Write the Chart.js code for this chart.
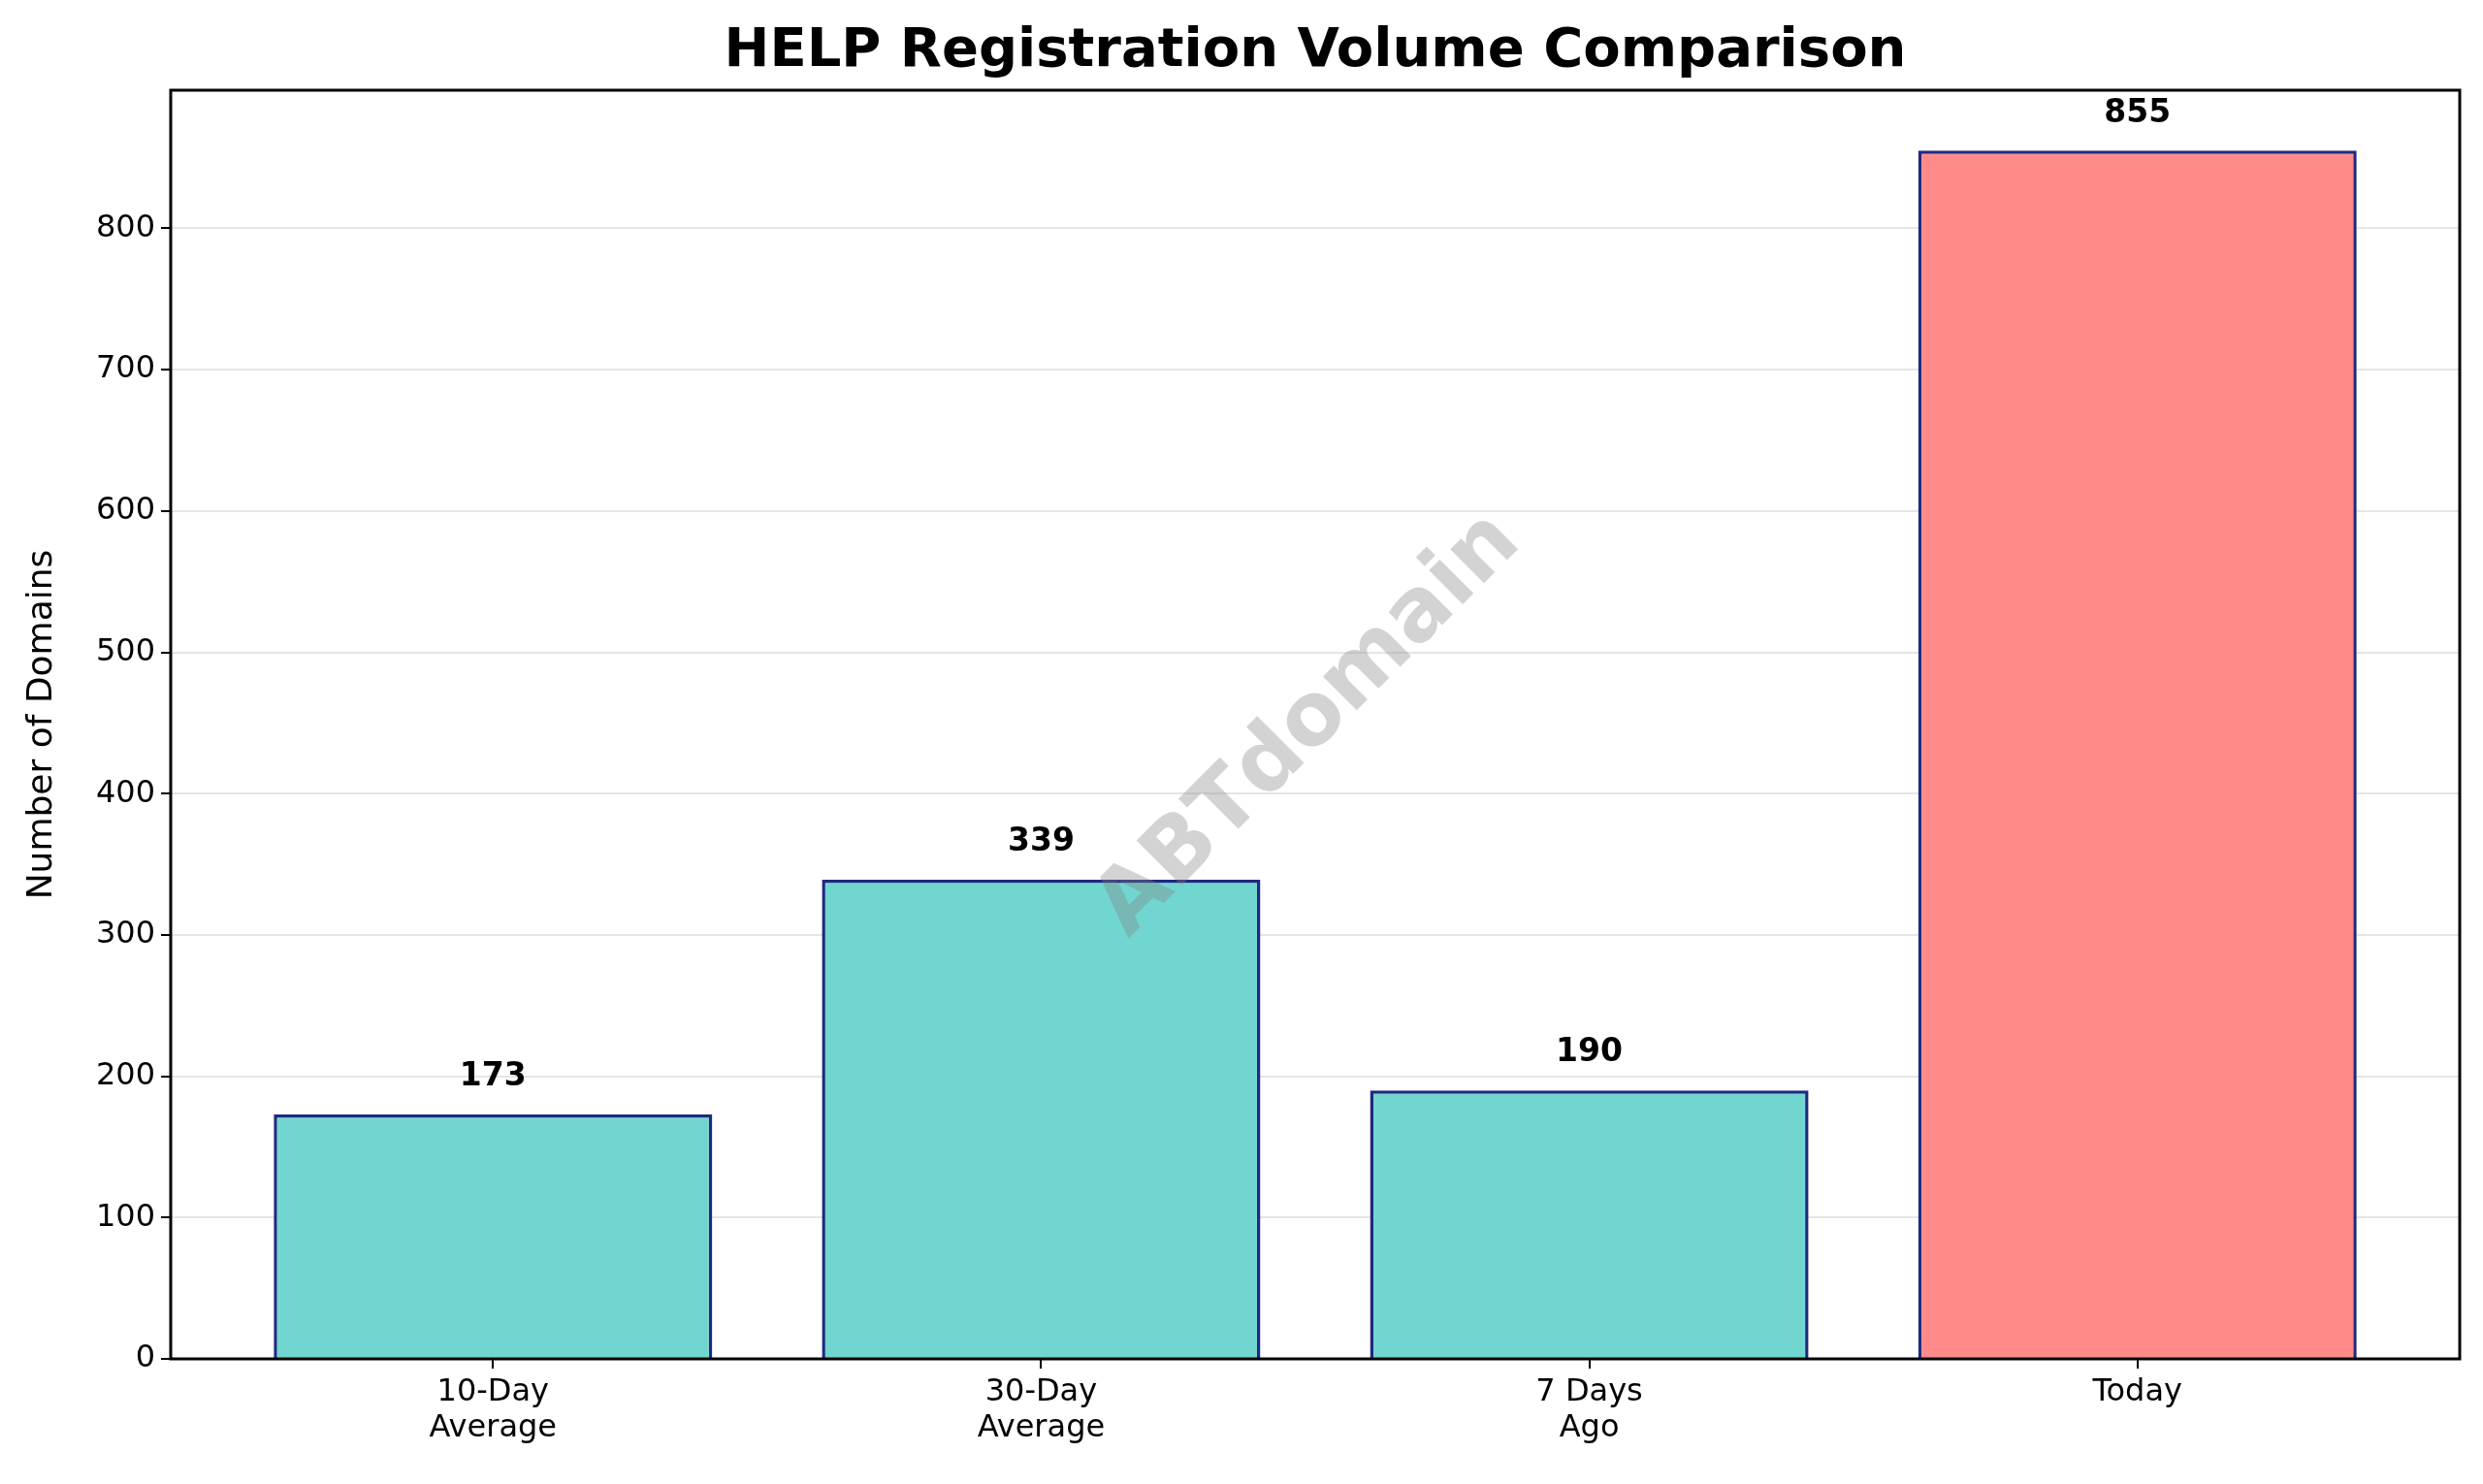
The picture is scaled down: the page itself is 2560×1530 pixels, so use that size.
<!DOCTYPE html>
<html><head><meta charset="utf-8">
<script src="https://cdn.jsdelivr.net/npm/chart.js@4"></script>
<style>html,body{margin:0;padding:0;background:#fff}canvas{display:block}</style>
</head><body>
<div style="width:2560px;height:1530px"><canvas id="c"></canvas></div>
<script>
const categories = [["10-Day","Average"],["30-Day","Average"],["7 Days","Ago"],["Today"]];
const values = [173, 339, 190, 855];
const barColors = ["#72d6d0","#72d6d0","#72d6d0","#ff8a8a"];
const yTicks = [0,100,200,300,400,500,600,700,800];

const F = "'DejaVu Sans', sans-serif";
const extras = {
  id:'extras',
  afterDatasetsDraw(chart){
    const {ctx, chartArea:a, scales:{x,y}} = chart;
    ctx.save();
    ctx.strokeStyle='#000'; ctx.lineWidth=3;
    ctx.strokeRect(a.left, a.top, a.right-a.left, a.bottom-a.top);
    ctx.fillStyle='#000'; ctx.font='bold 33px '+F; ctx.textAlign='center'; ctx.textBaseline='bottom';
    values.forEach((v,i)=>{ ctx.fillText(String(v), x.getPixelForValue(i), y.getPixelForValue(v+15)); });
    ctx.translate(1350, 748); ctx.rotate(-Math.PI/4);
    ctx.font='bold 90px '+F; ctx.fillStyle='rgba(128,128,128,0.35)'; ctx.textBaseline='middle';
    ctx.fillText('ABTdomain', 0, 0);
    ctx.restore();
    ctx.save();
    ctx.font='bold 56px '+F; ctx.fillStyle='#000'; ctx.textAlign='center'; ctx.textBaseline='bottom';
    ctx.fillText('HELP Registration Volume Comparison', (a.left+a.right)/2, a.top-12);
    ctx.restore();
  }
};

new Chart(document.getElementById('c'), {
  type:'bar',
  data:{datasets:[{
    data: values.map((v,i)=>({x:i,y:v})),
    backgroundColor: barColors, borderColor:'#1f2a80', borderWidth:3.5,
    barPercentage:0.8, categoryPercentage:1.0
  }]},
  options:{
    responsive:true, maintainAspectRatio:false, animation:false,
    layout:{padding:{top:93,right:24,left:0,bottom:0}},
    plugins:{legend:{display:false},tooltip:{enabled:false}},
    scales:{
      x:{type:'linear', min:-0.588, max:3.588, offset:false,
        afterBuildTicks(s){ s.ticks = categories.map((_,i)=>({value:i})); },
        afterFit(s){ s.height = 129; },
        ticks:{callback:(v)=>categories[v], font:{size:32,family:F,lineHeight:1.15}, color:'#000', maxRotation:0, padding:6},
        grid:{offset:false, drawOnChartArea:false, tickLength:10, color:'#000', tickColor:'#000', lineWidth:2},
        border:{display:false}
      },
      y:{min:0, max:897.75,
        afterBuildTicks(s){ s.ticks = yTicks.map(v=>({value:v})); },
        afterFit(s){ s.width = 176; },
        ticks:{font:{size:32,family:F}, color:'#000', padding:6},
        grid:{color:'rgba(0,0,0,0.1)', lineWidth:2, tickLength:10, tickColor:'#000'},
        border:{display:false},
        title:{display:true, text:'Number of Domains', font:{size:36,family:F}, color:'#000', padding:{top:22,bottom:0}}
      }
    }
  },
  plugins:[extras]
});
</script>
</body></html>
